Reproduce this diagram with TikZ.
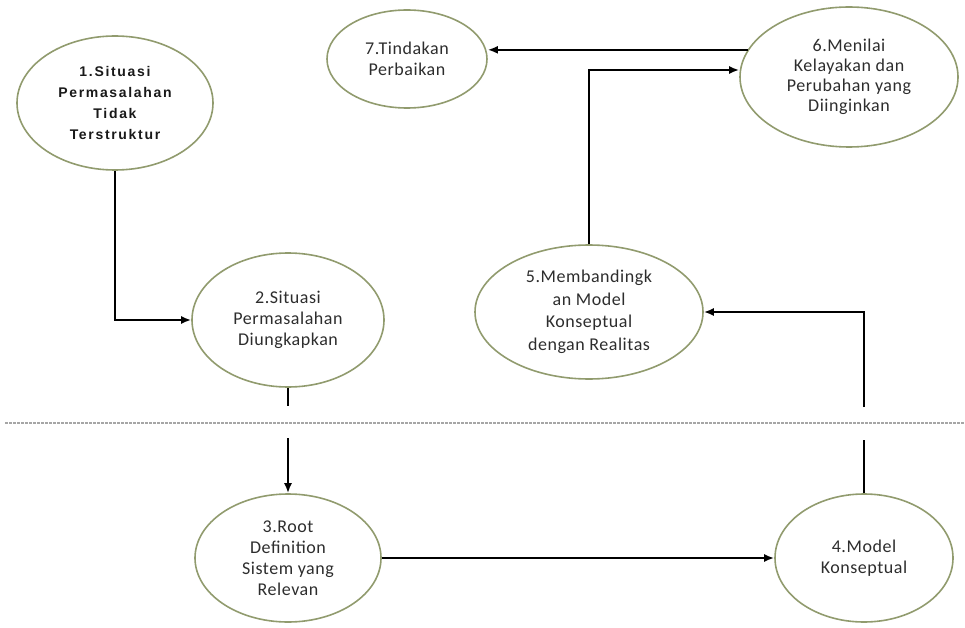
\documentclass[tikz,border=0pt]{standalone}
\usepackage{fontspec}
\setmainfont{Carlito}[LetterSpace=3]
\newfontfamily\onefont{Liberation Sans}[LetterSpace=12]
\usetikzlibrary{shapes.geometric,arrows.meta}
\definecolor{edgegreen}{RGB}{145,155,110}
\definecolor{txtgray}{RGB}{45,45,45}
\tikzset{
  bub/.style={draw=edgegreen, line width=1.6pt, ellipse, inner sep=0pt, align=center,
    text=txtgray, font=\fontsize{18}{21}\selectfont},
  link/.style={line width=2.6pt, black},
  arr/.style={link, -{Latex[length=10pt,width=8pt]}},
  sep/.style={gray!70, line width=1.3pt, dash pattern=on 3pt off 1pt}
}
\begin{document}
\begin{tikzpicture}[x=1pt,y=-1pt]
\useasboundingbox (0,0) rectangle (965,628);
\node[bub, minimum width=196pt, minimum height=134pt, text=black!90,
  font=\onefont\bfseries\fontsize{14}{21}\selectfont] (n1) at (115,103)
  {1.Situasi\\Permasalahan\\Tidak\\Terstruktur};
\node[bub, minimum width=192pt, minimum height=134pt] (n2) at (288,320)
  {2.Situasi\\Permasalahan\\Diungkapkan};
\node[bub, minimum width=186pt, minimum height=128pt] (n3) at (288,558)
  {3.Root\\Definition\\Sistem yang\\Relevan};
\node[bub, minimum width=178pt, minimum height=128pt] (n4) at (864,558)
  {4.Model\\Konseptual};
\node[bub, minimum width=228pt, minimum height=134pt, font=\fontsize{18}{22.5}\selectfont] (n5) at (589,312)
  {5.Membandingk\\an Model\\Konseptual\\dengan Realitas};
\node[bub, minimum width=218pt, minimum height=140pt, font=\fontsize{18}{20}\selectfont] (n6) at (849,77)
  {6.Menilai\\Kelayakan dan\\Perubahan yang\\Diinginkan};
\node[bub, minimum width=160pt, minimum height=98pt] (n7) at (407,59)
  {7.Tindakan\\Perbaikan};

\coordinate (sl) at (5,423);
\coordinate (sr) at (965,423);
\draw[sep] (sl) -- (sr);

% 1 -> 2
\draw[arr] (n1.south) |- (n2.west);
% 2 -> 3 (broken at separator)
\coordinate (g2a) at (288,406);
\coordinate (g2b) at (288,438);
\draw[link] (n2.south) -- (g2a);
\draw[arr] (g2b) -- (n3.north);
% 3 -> 4
\draw[arr] (n3.east) -- (n4.west);
% 4 -> 5 (broken at separator)
\coordinate (g4a) at (864,440);
\coordinate (g4b) at (864,407);
\draw[link] (n4.north) -- (g4a);
\draw[arr] (g4b) |- (n5.east);
% 5 -> 6
\coordinate (c56) at (589,70);
\draw[arr] (n5.north) -- (c56) -- (c56 -| n6.west);
% 6 -> 7
\draw[arr] (n6.165) -- (n6.165 -| n7.east);
\end{tikzpicture}
\end{document}
